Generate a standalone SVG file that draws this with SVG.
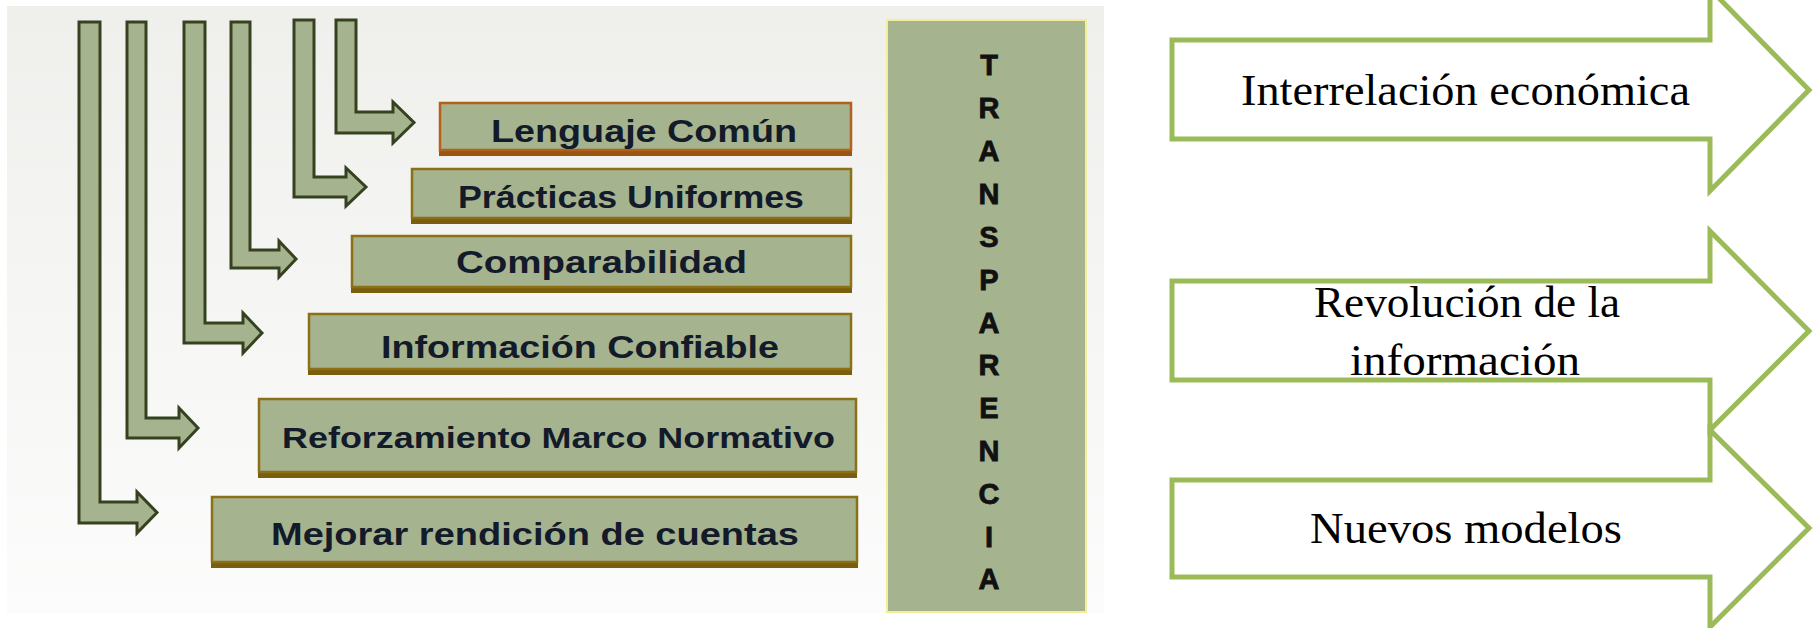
<svg xmlns="http://www.w3.org/2000/svg" width="1814" height="628" viewBox="0 0 1814 628">
<defs>
<linearGradient id="bg" x1="0" y1="0" x2="0" y2="1">
<stop offset="0" stop-color="#efefec"/>
<stop offset="1" stop-color="#fcfcfc"/>
</linearGradient>
<style>
.bar{fill:#a6b38f;stroke:#36421f;stroke-width:3;stroke-linejoin:miter}
.box{fill:#a6b38f;stroke:#8a7016;stroke-width:2.5}
.box1{fill:#a6b38f;stroke:#b2621c;stroke-width:2.5}
.shadow{fill:#7b5d0d}
.shadow1{fill:#9a5512}
.lbl{font-family:"Liberation Sans",Arial,sans-serif;font-weight:bold;font-size:32px;fill:#131a29;text-anchor:start}
.vl{font-family:"Liberation Sans",Arial,sans-serif;font-weight:bold;font-size:29px;fill:#111;stroke:#111;stroke-width:0.8;text-anchor:middle}
.arr{fill:#ffffff;stroke:#9bbb59;stroke-width:5;stroke-linejoin:miter}
.rt{font-family:"Liberation Serif","Times New Roman",serif;font-size:45px;fill:#000;text-anchor:start}
</style>
</defs>
<rect x="0" y="0" width="1814" height="628" fill="#ffffff"/>
<rect x="7" y="6" width="1097" height="607" fill="url(#bg)"/>

<g id="connectors">
<polygon class="bar" points="336,20 356,20 356,112 393,112 393,102 414,122.5 393,143 393,133 336,133"/>
<polygon class="bar" points="294,20 314,20 314,177 346,177 346,168 366,187 346,206 346,197 294,197"/>
<polygon class="bar" points="231,22 250,22 250,250 279,250 279,241 296,259 279,277 279,268 231,268"/>
<polygon class="bar" points="184,22 205,22 205,323 243,323 243,313 262,333 243,353 243,343 184,343"/>
<polygon class="bar" points="127,22 146,22 146,418 179,418 179,408 198,428 179,448 179,438 127,438"/>
<polygon class="bar" points="79,22 100,22 100,502 137,502 137,492 157,512.5 137,533 137,523 79,523"/>
</g>

<g id="n-lenguaje">
<rect class="shadow1" x="439" y="148" width="413" height="8"/>
<rect class="box1" x="440" y="103" width="411" height="47"/>
<text class="lbl" x="491" y="142" textLength="306" lengthAdjust="spacingAndGlyphs">Lenguaje Común</text>
</g>
<g id="n-practicas">
<rect class="shadow" x="411" y="216" width="441" height="8"/>
<rect class="box" x="412" y="169" width="439" height="49"/>
<text class="lbl" x="458" y="208" textLength="346" lengthAdjust="spacingAndGlyphs">Prácticas Uniformes</text>
</g>
<g id="n-comparabilidad">
<rect class="shadow" x="351" y="285" width="501" height="8"/>
<rect class="box" x="352" y="236" width="499" height="51"/>
<text class="lbl" x="456" y="273" textLength="291" lengthAdjust="spacingAndGlyphs">Comparabilidad</text>
</g>
<g id="n-informacion">
<rect class="shadow" x="308" y="367" width="544" height="8"/>
<rect class="box" x="309" y="314" width="542" height="55"/>
<text class="lbl" x="381" y="358" textLength="398" lengthAdjust="spacingAndGlyphs">Información Confiable</text>
</g>
<g id="n-reforzamiento">
<rect class="shadow" x="258" y="470" width="599" height="8"/>
<rect class="box" x="259" y="399" width="597" height="73"/>
<text class="lbl" x="282" y="448" textLength="553" lengthAdjust="spacingAndGlyphs" style="font-size:30px">Reforzamiento Marco Normativo</text>
</g>
<g id="n-mejorar">
<rect class="shadow" x="211" y="560" width="647" height="8"/>
<rect class="box" x="212" y="497" width="645" height="65"/>
<text class="lbl" x="271" y="545" textLength="528" lengthAdjust="spacingAndGlyphs">Mejorar rendición de cuentas</text>
</g>

<g id="n-transparencia">
<rect x="887" y="20" width="199" height="592" fill="#a6b38f" stroke="#f3ee9c" stroke-width="2"/>
<text class="vl" x="989" y="75">T</text>
<text class="vl" x="989" y="118">R</text>
<text class="vl" x="989" y="161">A</text>
<text class="vl" x="989" y="204">N</text>
<text class="vl" x="989" y="247">S</text>
<text class="vl" x="989" y="290">P</text>
<text class="vl" x="989" y="333">A</text>
<text class="vl" x="989" y="375">R</text>
<text class="vl" x="989" y="418">E</text>
<text class="vl" x="989" y="461">N</text>
<text class="vl" x="989" y="504">C</text>
<text class="vl" x="989" y="547">I</text>
<text class="vl" x="989" y="589">A</text>
</g>

<g id="n-interrelacion">
<polygon class="arr" points="1172,40 1710,40 1710,-11 1809,90 1710,191 1710,139 1172,139"/>
<text class="rt" x="1241" y="105" textLength="449" lengthAdjust="spacingAndGlyphs">Interrelación económica</text>
</g>
<g id="n-revolucion">
<polygon class="arr" points="1172,281 1710,281 1710,231 1809,331 1710,430 1710,380 1172,380"/>
<text class="rt" x="1314" y="317" textLength="306" lengthAdjust="spacingAndGlyphs">Revolución de la</text>
<text class="rt" x="1350" y="375" textLength="230" lengthAdjust="spacingAndGlyphs">información</text>
</g>
<g id="n-nuevos">
<polygon class="arr" points="1172,480 1710,480 1710,430 1809,528 1710,627 1710,577 1172,577"/>
<text class="rt" x="1310" y="543" textLength="312" lengthAdjust="spacingAndGlyphs">Nuevos modelos</text>
</g>
</svg>
